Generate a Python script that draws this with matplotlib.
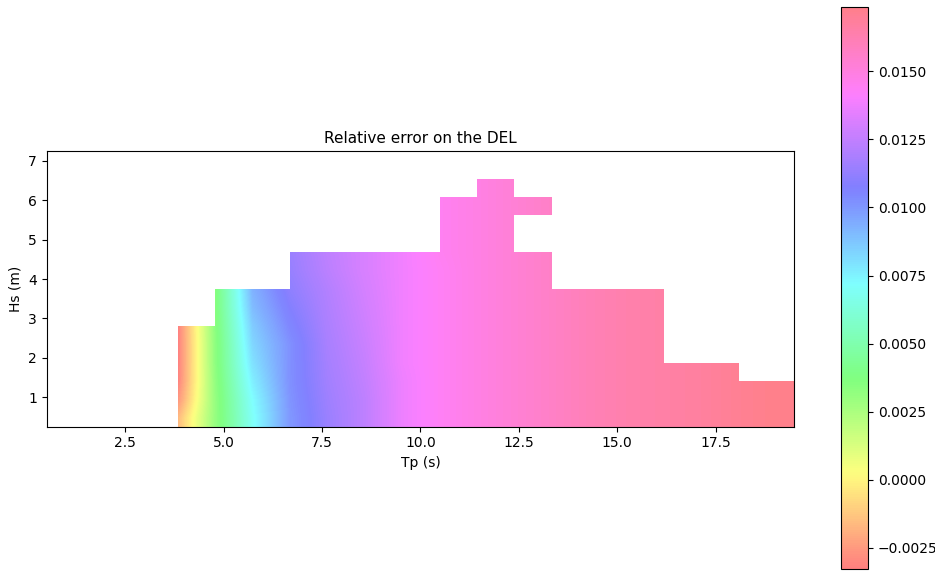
import numpy as np
import matplotlib
matplotlib.use("Agg")
import matplotlib.pyplot as plt

nan = np.nan

# Cell centres of the sea-state grid
tp_centers = [0.975, 1.925, 2.875, 3.825, 4.775, 5.725, 6.675, 7.625, 8.575, 9.525,
              10.475, 11.425, 12.375, 13.325, 14.275, 15.225, 16.175, 17.125, 18.075, 19.025]
hs_centers = [0.483, 0.950, 1.417, 1.883, 2.350, 2.817, 3.283, 3.750, 4.217, 4.683,
              5.150, 5.617, 6.083, 6.550, 7.017]

# Relative error on the DEL, one row per Hs centre (bottom to top), one column per Tp centre
row_00 = [nan, nan, nan, -0.0017, 0.0031, 0.0070, 0.0100, 0.0114, 0.0124, 0.0137, 0.0144, 0.0149, 0.0153, 0.0157, 0.0161, 0.0164, 0.0166, 0.0168, 0.0171, 0.01736]
row_01 = [nan, nan, nan, -0.0027, 0.0031, 0.0072, 0.0101, 0.0115, 0.0124, 0.0137, 0.0144, 0.0149, 0.0153, 0.0157, 0.0161, 0.0164, 0.0166, 0.0168, 0.0171, 0.01736]
row_02 = [nan, nan, nan, -0.0032, 0.0032, 0.0076, 0.0102, 0.0116, 0.0125, 0.0137, 0.0144, 0.0149, 0.0153, 0.0157, 0.0161, 0.0164, 0.0166, 0.0168, 0.0171, 0.01736]
row_03 = [nan, nan, nan, -0.00329, 0.0033, 0.0080, 0.0102, 0.0117, 0.0126, 0.0138, 0.0144, 0.0149, 0.0153, 0.0157, 0.0161, 0.0164, 0.0166, 0.0168, 0.0171, nan]
row_04 = [nan, nan, nan, -0.00329, 0.0033, 0.0083, 0.0102, 0.0118, 0.0127, 0.0138, 0.0144, 0.0149, 0.0153, 0.0157, 0.0161, 0.0164, 0.0166, nan, nan, nan]
row_05 = [nan, nan, nan, -0.00329, 0.0034, 0.0086, 0.0105, 0.0119, 0.0128, 0.0138, 0.0144, 0.0149, 0.0153, 0.0157, 0.0161, 0.0164, 0.0166, nan, nan, nan]
row_06 = [nan, nan, nan, nan, 0.0035, 0.0090, 0.0108, 0.0120, 0.0129, 0.0138, 0.0144, 0.0149, 0.0153, 0.0157, 0.0161, 0.0164, 0.0166, nan, nan, nan]
row_07 = [nan, nan, nan, nan, 0.0035, 0.0093, 0.0111, 0.0121, 0.0130, 0.0138, 0.0144, 0.0149, 0.0153, 0.0157, 0.0161, 0.0164, 0.0166, nan, nan, nan]
row_08 = [nan, nan, nan, nan, nan, nan, 0.0113, 0.0123, 0.0131, 0.0138, 0.0144, 0.0149, 0.0153, 0.0157, nan, nan, nan, nan, nan, nan]
row_09 = [nan, nan, nan, nan, nan, nan, 0.0114, 0.0124, 0.0131, 0.0138, 0.0145, 0.0149, 0.0153, 0.0157, nan, nan, nan, nan, nan, nan]
row_10 = [nan, nan, nan, nan, nan, nan, nan, nan, nan, nan, 0.0145, 0.0149, 0.0153, nan, nan, nan, nan, nan, nan, nan]
row_11 = [nan, nan, nan, nan, nan, nan, nan, nan, nan, nan, 0.0145, 0.0149, 0.0153, 0.0157, nan, nan, nan, nan, nan, nan]
row_12 = [nan, nan, nan, nan, nan, nan, nan, nan, nan, nan, 0.0145, 0.0149, 0.0153, 0.0157, nan, nan, nan, nan, nan, nan]
row_13 = [nan, nan, nan, nan, nan, nan, nan, nan, nan, nan, nan, 0.0149, 0.0153, nan, nan, nan, nan, nan, nan, nan]
row_14 = [nan] * 20

color_min = -0.00329
color_max = 0.01736

Z = np.array([row_00, row_01, row_02, row_03, row_04, row_05, row_06, row_07,
              row_08, row_09, row_10, row_11, row_12, row_13, row_14])
Zm = np.ma.masked_invalid(Z)

tp = np.array(tp_centers)
hs = np.array(hs_centers)
dtp = tp[1] - tp[0]
dhs = hs[1] - hs[0]
extent = [tp[0] - dtp / 2, tp[-1] + dtp / 2, hs[0] - dhs / 2, hs[-1] + dhs / 2]

fig = plt.figure(figsize=(9.35, 5.71), dpi=100)
ax = fig.add_axes([46.7 / 935, 1 - 426.7 / 571, (794.3 - 46.7) / 935, (426.7 - 151) / 571])
im = ax.imshow(Zm, origin="lower", extent=extent, cmap="hsv", alpha=0.5,
               vmin=color_min, vmax=color_max, interpolation="bilinear",
               interpolation_stage="data", aspect="auto")
ax.set_xlim(extent[0], extent[1])
ax.set_ylim(extent[2], extent[3])
ax.set_title("Relative error on the DEL", fontsize=11)
ax.set_xlabel("Tp (s)")
ax.set_ylabel("Hs (m)")

cax = fig.add_axes([840.7 / 935, 1 - 569 / 571, (868.3 - 840.7) / 935, (569 - 7.3) / 571])
fig.colorbar(im, cax=cax)

fig.savefig("out.png", dpi=100)
